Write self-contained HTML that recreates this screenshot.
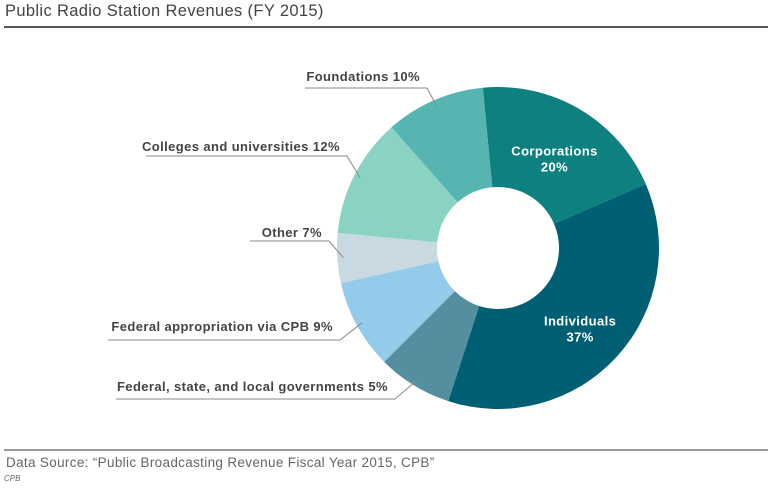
<!DOCTYPE html>
<html><head><meta charset="utf-8"><style>
body{margin:0;background:#fff;width:774px;height:485px;overflow:hidden;font-family:"Liberation Sans",sans-serif}
svg text{font-family:"Liberation Sans",sans-serif}
</style></head><body>
<svg width="774" height="485">
<text x="5" y="16" font-size="16.5" letter-spacing="0.35" fill="#444">Public Radio Station Revenues (FY 2015)</text>
<line x1="4" y1="27" x2="768" y2="27" stroke="#555" stroke-width="2"/>
<g id="donut"></g>
<g id="labels"></g>
<line x1="4" y1="450" x2="768" y2="450" stroke="#777" stroke-width="1.5"/>
<text x="6" y="467" font-size="13.5" letter-spacing="0.33" fill="#666">Data Source: “Public Broadcasting Revenue Fiscal Year 2015, CPB”</text>
<text x="4" y="481" font-size="8" font-style="italic" fill="#666">CPB</text>
</svg>
<script>
const categories=["Corporations","Individuals","Federal, state, and local governments","Federal appropriation via CPB","Other","Colleges and universities","Foundations"];
const values=[20,36.5,7.5,9,5,12,10];
const printed=["20%","37%","5%","9%","7%","12%","10%"];
const colors=["#0e8080","#015f73","#548e9f","#95cbea","#c9d9e1","#8ad2c2","#56b4b1"];
const cx=498,cy=248,R=161,r=61,start=-5.4;
const NS="http://www.w3.org/2000/svg";
const g=document.getElementById('donut'),lg=document.getElementById('labels');
const total=values.reduce((a,b)=>a+b,0);
function pt(deg,rad){const a=(deg-90)*Math.PI/180;return [cx+rad*Math.cos(a),cy+rad*Math.sin(a)];}
let ang=start;const mids=[];
values.forEach((v,i)=>{
 const sweep=v/total*360,a0=ang,a1=ang+sweep;ang=a1;mids.push((a0+a1)/2);
 const p0=pt(a0,R),p1=pt(a1,R),q1=pt(a1,r),q0=pt(a0,r),lf=sweep>180?1:0;
 const p=document.createElementNS(NS,'path');
 p.setAttribute('d',`M${p0[0]},${p0[1]}A${R},${R} 0 ${lf} 1 ${p1[0]},${p1[1]}L${q1[0]},${q1[1]}A${r},${r} 0 ${lf} 0 ${q0[0]},${q0[1]}Z`);
 p.setAttribute('fill',colors[i]);
 
 
 g.appendChild(p);
});
function txt(x,y,s,anchor,fill,name){const t=document.createElementNS(NS,'text');t.setAttribute('x',x);t.setAttribute('y',y);t.setAttribute('font-size','13');t.setAttribute('letter-spacing','0.4');t.setAttribute('font-weight','bold');t.setAttribute('fill',fill);t.setAttribute('text-anchor',anchor);t.textContent=s;


lg.appendChild(t);}
[0,1].forEach(i=>{const m=pt(mids[i],111);txt(m[0],m[1]+3,categories[i],'middle','#fff','label-'+i);txt(m[0],m[1]+19,printed[i],'middle','#fff','value-'+i);});
const ext={2:[388,391,116,399],3:[333,331,108,340],4:[322,237,250,241],5:[340,151,146,156],6:[420,81,305,88]};
Object.keys(ext).forEach(k=>{const i=+k,[tx,ty,ux,uy]=ext[i];
 txt(tx,ty,categories[i]+' '+printed[i],'end','#444','label-'+i);
 const e=pt(mids[i],R-6);const bx=tx+7;
 const pl=document.createElementNS(NS,'polyline');
 pl.setAttribute('points',`${ux},${uy} ${bx},${uy} ${e[0]},${e[1]}`);
 pl.setAttribute('fill','none');pl.setAttribute('stroke','#888');pl.setAttribute('stroke-width','1');
 
 
 lg.appendChild(pl);
});
</script>
</body></html>
